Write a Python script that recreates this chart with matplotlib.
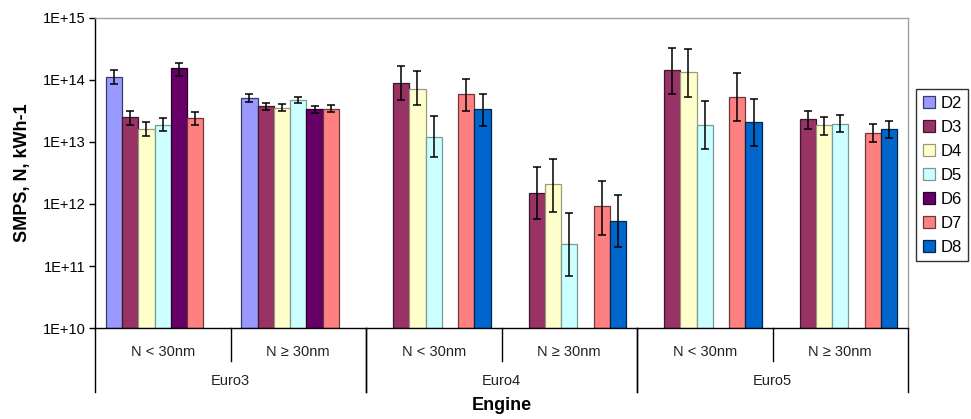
"""SMPS particle number emissions per engine / size class, D2..D8 cycles."""

import matplotlib
matplotlib.use("Agg")
import matplotlib.pyplot as plt
import matplotlib.ticker as mticker
from matplotlib.patches import Patch
from matplotlib.transforms import blended_transform_factory
import numpy as np

plt.rcParams["font.family"] = ["Liberation Sans", "DejaVu Sans"]

nan = np.nan

SIZE_LABELS = ["N < 30nm", "N \u2265 30nm"] * 3
ENGINES = ["Euro3", "Euro4", "Euro5"]
SERIES = ["D2", "D3", "D4", "D5", "D6", "D7", "D8"]

D2 = [1.12e14, 5.1e13, nan, nan, nan, nan]
D3 = [2.5e13, 3.8e13, 9.1e13, 1.5e12, 1.45e14, 2.35e13]
D4 = [1.64e13, 3.6e13, 7.2e13, 2.1e12, 1.36e14, 1.88e13]
D5 = [1.9e13, 4.8e13, 1.2e13, 2.26e11, 1.88e13, 1.97e13]
D6 = [1.54e14, 3.4e13, nan, nan, nan, nan]
D7 = [2.4e13, 3.44e13, 5.9e13, 9.3e11, 5.3e13, 1.38e13]
D8 = [nan, nan, 3.36e13, 5.3e11, 2.1e13, 1.62e13]

# upper / lower end of each error bar
D2_HI = [1.47e14, 5.9e13, nan, nan, nan, nan]
D2_LO = [8.6e13, 4.4e13, nan, nan, nan, nan]
D3_HI = [3.2e13, 4.3e13, 1.7e14, 4.0e12, 3.3e14, 3.2e13]
D3_LO = [1.9e13, 3.3e13, 4.8e13, 5.8e11, 5.9e13, 1.6e13]
D4_HI = [2.1e13, 4.1e13, 1.38e14, 5.4e12, 3.16e14, 2.56e13]
D4_LO = [1.26e13, 3.16e13, 3.9e13, 7.5e11, 5.3e13, 1.31e13]
D5_HI = [2.4e13, 5.4e13, 2.6e13, 7.2e11, 4.6e13, 2.72e13]
D5_LO = [1.48e13, 4.2e13, 5.7e12, 6.8e10, 7.8e12, 1.45e13]
D6_HI = [1.9e14, 3.75e13, nan, nan, nan, nan]
D6_LO = [1.17e14, 2.97e13, nan, nan, nan, nan]
D7_HI = [3.05e13, 3.95e13, 1.05e14, 2.35e12, 1.31e14, 1.97e13]
D7_LO = [1.87e13, 3.0e13, 3.2e13, 3.2e11, 2.2e13, 1.01e13]
D8_HI = [nan, nan, 5.9e13, 1.4e12, 5.0e13, 2.2e13]
D8_LO = [nan, nan, 1.78e13, 2.04e11, 8.6e12, 1.17e13]

VALUES = [D2, D3, D4, D5, D6, D7, D8]
HIGHS = [D2_HI, D3_HI, D4_HI, D5_HI, D6_HI, D7_HI, D8_HI]
LOWS = [D2_LO, D3_LO, D4_LO, D5_LO, D6_LO, D7_LO, D8_LO]

COLORS = ["#9999FF", "#993366", "#FFFFCC", "#CCFFFF", "#660066", "#FF8080", "#0066CC"]
EDGES = ["#3a3a6a", "#3a1a2a", "#9a9a80", "#7a9a9a", "#2a002a", "#6a3a3a", "#00264a"]

Y_MIN, Y_MAX = 1e10, 1e15

fig = plt.figure(figsize=(9.71, 4.19), dpi=100)
ax = fig.add_axes([95 / 971, 1 - 328 / 419, (908 - 95) / 971, (328 - 18) / 419])

x = np.arange(len(SIZE_LABELS))
width = 0.12
for i, name in enumerate(SERIES):
    vals = np.array(VALUES[i], dtype=float)
    hi = np.array(HIGHS[i], dtype=float)
    lo = np.array(LOWS[i], dtype=float)
    pos = x + (i - 3) * width
    ok = ~np.isnan(vals)
    ax.bar(pos[ok], vals[ok] - Y_MIN, bottom=Y_MIN, width=width,
           color=COLORS[i], edgecolor=EDGES[i], linewidth=0.9, zorder=2)
    ax.errorbar(pos[ok], vals[ok], yerr=[vals[ok] - lo[ok], hi[ok] - vals[ok]],
                fmt="none", ecolor="black", elinewidth=1.1, capsize=3.2,
                capthick=1.1, zorder=3)

ax.set_yscale("log")
ax.set_ylim(Y_MIN, Y_MAX)
ax.set_xlim(-0.5, len(SIZE_LABELS) - 0.5)
ax.yaxis.set_major_locator(mticker.FixedLocator([1e10, 1e11, 1e12, 1e13, 1e14, 1e15]))
ax.yaxis.set_minor_locator(mticker.NullLocator())
ax.yaxis.set_major_formatter(
    mticker.FuncFormatter(lambda v, _: f"1E+{int(round(np.log10(v)))}"))
ax.tick_params(axis="y", labelsize=10.5, length=4, width=1, direction="out",
               color="black", pad=3)
ax.set_xticks([])

for side in ("top", "right"):
    ax.spines[side].set_color("#a0a0a0")
    ax.spines[side].set_linewidth(1)
for side in ("left", "bottom"):
    ax.spines[side].set_color("black")
    ax.spines[side].set_linewidth(1)

ax.set_ylabel("SMPS, N, kWh-1", fontsize=13, fontweight="bold", labelpad=8)

# multi-level category axis
trans = blended_transform_factory(ax.transData, ax.transAxes)
for k, lab in enumerate(SIZE_LABELS):
    ax.text(x[k], -0.077, lab, transform=trans, ha="center", va="center",
            fontsize=10.5, color="#222222")
for k in range(1, len(SIZE_LABELS), 2):
    ax.plot([x[k] - 0.5, x[k] - 0.5], [0, -0.106], transform=trans,
            color="black", lw=1, clip_on=False)
for j, eng in enumerate(ENGINES):
    centre = (x[2 * j] + x[2 * j + 1]) / 2
    ax.text(centre, -0.171, eng, transform=trans, ha="center", va="center",
            fontsize=10.5, color="#222222")
    for edge in (x[2 * j] - 0.5, x[2 * j + 1] + 0.5):
        ax.plot([edge, edge], [0, -0.206], transform=trans,
                color="black", lw=1, clip_on=False)

ax.text(0.5, -0.25, "Engine", transform=ax.transAxes, ha="center", va="center",
        fontsize=13, fontweight="bold")

handles = [Patch(facecolor=c, edgecolor=e, linewidth=0.9, label=n)
           for c, e, n in zip(COLORS, EDGES, SERIES)]
leg = ax.legend(handles=handles, loc="upper left",
                bbox_to_anchor=(916 / 971, 1 - 89 / 419),
                bbox_transform=fig.transFigure, fontsize=12, frameon=True,
                fancybox=False, handlelength=0.75, handleheight=0.75,
                handletextpad=0.3, labelspacing=0.54, borderpad=0.4,
                borderaxespad=0)
leg.get_frame().set_edgecolor("black")
leg.get_frame().set_linewidth(1)

fig.savefig("out.png", dpi=100)
